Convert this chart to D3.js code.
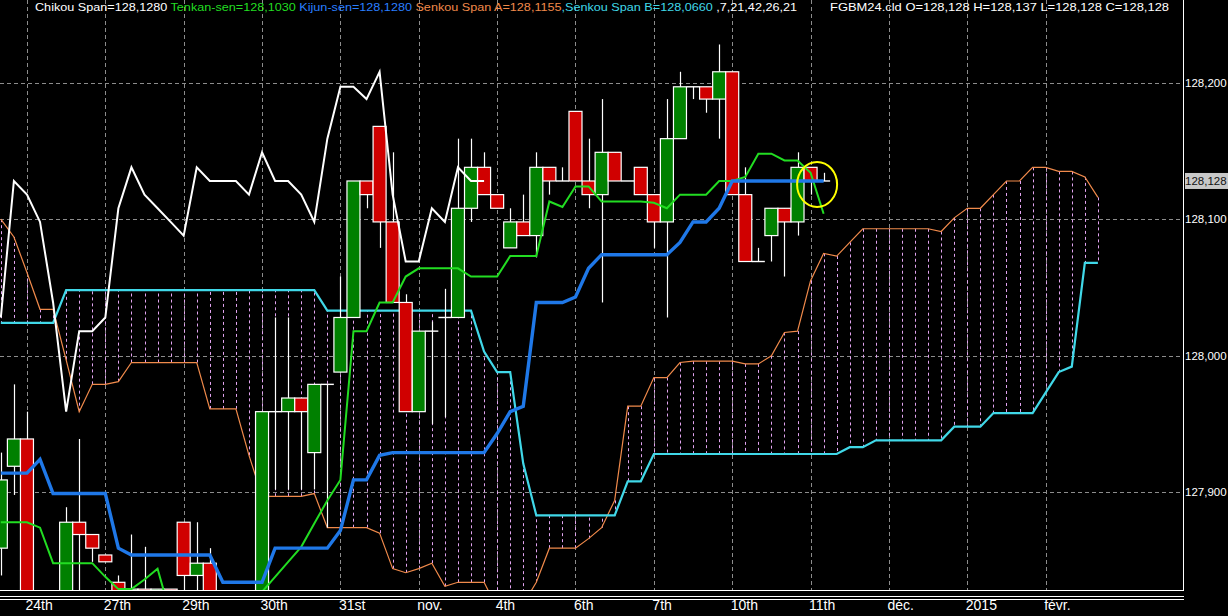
<!DOCTYPE html>
<html>
<head>
<meta charset="utf-8">
<script src="https://cdn.jsdelivr.net/npm/d3@7/dist/d3.min.js"></script>
<style>
  html, body { margin: 0; padding: 0; background: #000; overflow: hidden; }
  svg { display: block; }
</style>
</head>
<body>
<svg id="mainSvg" width="1228" height="616"></svg>
<script>
// bar numbers: array index 0 is bar -1 (partly hidden at the left edge)
const firstBar = -1;
const chikouShift = 26;

const opens = [127.859, 127.919, 127.939, 127.790, 127.780, 127.770, 127.878, 127.869, 127.854, 127.834,
  127.790, 127.829, 127.800, 127.829, 127.878, 127.839, 127.848, 127.780, 127.770, 127.760,
  127.760, 127.959, 127.959, 127.969, 127.929, 127.979, 127.988, 128.028, 128.128, 128.168,
  128.098, 128.039, 127.959, 128.018, 128.028, 128.028, 128.108, 128.138, 128.118, 128.079,
  128.098, 128.088, 128.138, 128.128, 128.179, 128.128, 128.118, 128.149, 128.128, 128.138,
  128.118, 128.098, 128.159, 128.197, 128.197, 128.188, 128.208, 128.118, 128.069, 128.088,
  128.108, 128.098, 128.138, 128.128];
const highs = [127.929, 127.979, 127.959, 127.800, 127.790, 127.889, 127.939, 127.869, 127.854, 127.839,
  127.869, 127.860, 127.829, 127.829, 127.878, 127.878, 127.859, 127.790, 127.780, 127.775,
  127.959, 128.028, 128.028, 127.969, 127.979, 127.979, 128.058, 128.128, 128.128, 128.168,
  128.149, 128.045, 128.018, 128.025, 128.049, 128.159, 128.159, 128.149, 128.118, 128.108,
  128.118, 128.149, 128.138, 128.138, 128.179, 128.159, 128.188, 128.149, 128.128, 128.138,
  128.118, 128.188, 128.208, 128.197, 128.197, 128.228, 128.208, 128.138, 128.079, 128.108,
  128.108, 128.149, 128.138, 128.134];
const lows = [127.839, 127.898, 127.780, 127.765, 127.755, 127.760, 127.790, 127.849, 127.849, 127.770,
  127.780, 127.790, 127.780, 127.790, 127.790, 127.790, 127.750, 127.745, 127.740, 127.745,
  127.750, 127.902, 127.902, 127.902, 127.902, 127.874, 127.988, 128.028, 128.108, 128.079,
  128.039, 127.959, 127.959, 127.950, 127.955, 128.028, 128.098, 128.118, 128.108, 128.079,
  128.088, 128.072, 128.118, 128.128, 128.128, 128.108, 128.039, 128.128, 128.128, 128.118,
  128.079, 128.028, 128.159, 128.188, 128.178, 128.159, 128.118, 128.069, 128.069, 128.069,
  128.058, 128.088, 128.118, 128.128];
const closes = [127.909, 127.939, 127.790, 127.780, 127.770, 127.878, 127.869, 127.859, 127.849, 127.790,
  127.829, 127.800, 127.829, 127.800, 127.839, 127.848, 127.780, 127.770, 127.760, 127.760,
  127.959, 127.959, 127.969, 127.959, 127.979, 127.979, 128.028, 128.128, 128.118, 128.098,
  128.039, 127.959, 128.018, 128.018, 128.028, 128.108, 128.138, 128.118, 128.108, 128.098,
  128.088, 128.138, 128.128, 128.128, 128.128, 128.118, 128.149, 128.128, 128.128, 128.118,
  128.098, 128.159, 128.197, 128.197, 128.188, 128.208, 128.118, 128.069, 128.069, 128.108,
  128.098, 128.138, 128.128, 128.128];

const tenkan = [127.878, 127.878, 127.878, 127.874, 127.848, 127.848, 127.848, 127.848, 127.838, 127.829,
  127.829, 127.836, 127.844, 127.810, 127.800, 127.795, 127.790, 127.790, 127.792, 127.798,
  127.827, 127.838, 127.849, 127.860, 127.877, 127.894, 127.909, 128.018, 128.018, 128.039,
  128.039, 128.058, 128.064, 128.064, 128.064, 128.064, 128.058, 128.058, 128.058, 128.073,
  128.073, 128.073, 128.113, 128.109, 128.124, 128.124, 128.113, 128.113, 128.113, 128.113,
  128.112, 128.108, 128.118, 128.118, 128.118, 128.128, 128.128, 128.131, 128.148, 128.148,
  128.143, 128.143, 128.134, 128.104];
const kijun = [127.914, 127.914, 127.914, 127.924, 127.899, 127.899, 127.899, 127.899, 127.899, 127.859,
  127.854, 127.854, 127.854, 127.854, 127.854, 127.854, 127.854, 127.834, 127.834, 127.834,
  127.834, 127.859, 127.859, 127.859, 127.859, 127.859, 127.872, 127.909, 127.909, 127.927,
  127.929, 127.929, 127.929, 127.929, 127.929, 127.929, 127.929, 127.929, 127.943, 127.959,
  127.963, 128.039, 128.039, 128.039, 128.043, 128.064, 128.074, 128.074, 128.074, 128.074,
  128.074, 128.074, 128.083, 128.098, 128.098, 128.108, 128.128, 128.128, 128.128, 128.128,
  128.128, 128.128, 128.128, 128.128];

// senkou spans run 21 bars past the last candle (bars -1 .. 83)
const senkouA = [128.100, 128.087, 128.061, 128.034, 128.034, 127.997, 127.959, 127.979, 127.979, 127.981,
  127.995, 127.995, 127.995, 127.995, 127.995, 127.995, 127.961, 127.961, 127.961, 127.927,
  127.897, 127.897, 127.897, 127.897, 127.899, 127.874, 127.874, 127.874, 127.874, 127.870,
  127.844, 127.841, 127.844, 127.848, 127.831, 127.834, 127.834, 127.834, 127.815, 127.812,
  127.818, 127.834, 127.859, 127.859, 127.859, 127.866, 127.874, 127.894, 127.963, 127.963,
  127.984, 127.984, 127.995, 127.996, 127.996, 127.996, 127.996, 127.994, 127.994, 128.000,
  128.017, 128.018, 128.055, 128.075, 128.073, 128.083, 128.093, 128.093, 128.093, 128.093,
  128.093, 128.093, 128.091, 128.101, 128.108, 128.108, 128.118, 128.128, 128.128, 128.138,
  128.138, 128.135, 128.135, 128.131, 128.116];
const senkouB = [128.024, 128.024, 128.024, 128.024, 128.024, 128.048, 128.048, 128.048, 128.048, 128.048,
  128.048, 128.048, 128.048, 128.048, 128.048, 128.048, 128.048, 128.048, 128.048, 128.048,
  128.048, 128.048, 128.048, 128.048, 128.048, 128.033, 128.033, 128.033, 128.033, 128.033,
  128.033, 128.033, 128.033, 128.033, 128.033, 128.033, 128.033, 128.003, 127.988, 127.988,
  127.921, 127.883, 127.883, 127.883, 127.883, 127.883, 127.883, 127.883, 127.908, 127.908,
  127.928, 127.928, 127.928, 127.928, 127.928, 127.928, 127.928, 127.928, 127.928, 127.928,
  127.928, 127.928, 127.928, 127.928, 127.928, 127.933, 127.933, 127.938, 127.938, 127.938,
  127.938, 127.938, 127.938, 127.948, 127.948, 127.948, 127.958, 127.958, 127.958, 127.958,
  127.973, 127.988, 127.992, 128.068, 128.068];

const priceTicks = [127.9, 128.0, 128.1, 128.2];
const timeTickBars = [1, 7, 13, 19, 25, 31, 37, 43, 49, 55, 61, 67, 73, 79];
const dateLabels = ["24th", "27th", "29th", "30th", "31st", "nov.", "4th", "6th", "7th", "10th", "11th", "déc.", "2015", "févr."];
const lastPrice = 128.128;

const legendParts = [
    {text: "Chikou Span=128,1280 ", color: "#ffffff"},
    {text: "Tenkan-sen=128,1030 ", color: "#22dd22"},
    {text: "Kijun-sen=128,1280 ", color: "#2a7fff"},
    {text: "Senkou Span A=128,1155", color: "#f08a4b"},
    {text: ",Senkou Span B=128,0660", color: "#40d8e8"},
    {text: " ,7,21,42,26,21", color: "#ffffff"}
];
const symbolText = "FGBM24.cld O=128,128 H=128,137 L=128,128 C=128,128";

// the yellow ring drawn round the last candles
const marker = {bar: 61.5, price: 128.1255, rx: 20, ry: 22.5};

const width = 1228;
const height = 616;
const plotRight = 1183;
const plotBottom = 590;

const canvas = d3.select("#mainSvg");

const x = d3.scaleLinear().domain([0, 78]).range([13.9, 1032.6]);
const y = d3.scaleLinear().domain([127.9, 128.2]).range([492.2, 82.7]);

const barOf = (i) => firstBar + i;

canvas.append("rect").attr("width", width).attr("height", height).attr("fill", "#000");

canvas.append("defs").append("clipPath").attr("id", "plotClip")
    .append("rect").attr("x", 0).attr("y", 0).attr("width", plotRight).attr("height", plotBottom);

const plot = canvas.append("g").attr("clip-path", "url(#plotClip)");

// grid
plot.selectAll("line.hgrid")
    .data(priceTicks)
    .enter()
        .append("line")
        .attr("x1", 0).attr("x2", plotRight)
        .attr("y1", d => Math.round(y(d)) + 0.5)
        .attr("y2", d => Math.round(y(d)) + 0.5)
        .attr("stroke", "#8c8c8c").attr("stroke-dasharray", "4,3");

plot.selectAll("line.vgrid")
    .data(timeTickBars)
    .enter()
        .append("line")
        .attr("x1", d => Math.round(x(d)) + 0.5)
        .attr("x2", d => Math.round(x(d)) + 0.5)
        .attr("y1", 0).attr("y2", plotBottom)
        .attr("stroke", "#8c8c8c").attr("stroke-dasharray", "4,3");

// cloud hatching between the two spans
plot.selectAll("line.hatch")
    .data(senkouA.map((a, i) => ({bar: barOf(i), a: a, b: senkouB[i]})))
    .enter()
        .append("line")
        .attr("x1", d => Math.round(x(d.bar)) + 0.5)
        .attr("x2", d => Math.round(x(d.bar)) + 0.5)
        .attr("y1", d => y(d.a))
        .attr("y2", d => y(d.b))
        .attr("stroke", "#e2a4f0").attr("stroke-dasharray", "3,3");

const line = d3.line().x(d => x(d.bar)).y(d => y(d.v));
const series = (arr) => arr.map((v, i) => ({bar: barOf(i), v: v}));

plot.append("path").datum(series(senkouA))
    .attr("d", line).attr("fill", "none").attr("stroke", "#f08a4b").attr("stroke-width", 1.2);
plot.append("path").datum(series(senkouB))
    .attr("d", line).attr("fill", "none").attr("stroke", "#40d8e8").attr("stroke-width", 2.2);

// candles
const candles = opens.map((o, i) => ({bar: barOf(i), o: o, h: highs[i], l: lows[i], c: closes[i]}));
const bodyW = 13;

plot.selectAll("line.wick")
    .data(candles)
    .enter()
        .append("line")
        .attr("x1", d => Math.round(x(d.bar)) + 0.5)
        .attr("x2", d => Math.round(x(d.bar)) + 0.5)
        .attr("y1", d => y(d.h))
        .attr("y2", d => y(d.l))
        .attr("stroke", "#fff").attr("stroke-width", 1.2);

plot.selectAll("rect.body")
    .data(candles.filter(d => d.o !== d.c))
    .enter()
        .append("rect")
        .attr("x", d => x(d.bar) - bodyW / 2)
        .attr("width", bodyW)
        .attr("y", d => y(Math.max(d.o, d.c)))
        .attr("height", d => Math.abs(y(d.o) - y(d.c)))
        .attr("fill", d => d.c > d.o ? "#008000" : "#d00000")
        .attr("stroke", "#fff").attr("stroke-width", 1.2);

plot.selectAll("line.doji")
    .data(candles.filter(d => d.o === d.c))
    .enter()
        .append("line")
        .attr("x1", d => x(d.bar) - bodyW / 2)
        .attr("x2", d => x(d.bar) + bodyW / 2)
        .attr("y1", d => y(d.o))
        .attr("y2", d => y(d.o))
        .attr("stroke", "#fff").attr("stroke-width", 1.4);

// tenkan, kijun, chikou
plot.append("path").datum(series(tenkan))
    .attr("d", line).attr("fill", "none").attr("stroke", "#22dd22").attr("stroke-width", 2);
plot.append("path").datum(series(kijun))
    .attr("d", line).attr("fill", "none").attr("stroke", "#1f78e8").attr("stroke-width", 3.4);

const chikou = closes
    .map((c, i) => ({bar: barOf(i) - chikouShift, v: c}))
    .filter(d => d.bar >= firstBar);
plot.append("path").datum(chikou)
    .attr("d", line).attr("fill", "none").attr("stroke", "#fff").attr("stroke-width", 2);

plot.append("ellipse")
    .attr("cx", x(marker.bar)).attr("cy", y(marker.price))
    .attr("rx", marker.rx).attr("ry", marker.ry)
    .attr("fill", "none").attr("stroke", "#ffff00").attr("stroke-width", 2);

// frame
canvas.append("line").attr("x1", plotRight + 0.5).attr("x2", plotRight + 0.5)
    .attr("y1", 0).attr("y2", plotBottom + 1).attr("stroke", "#fff");
[plotBottom + 0.5, 596.5, 599.5].forEach(yy => {
    canvas.append("line").attr("x1", 0).attr("x2", plotRight + 1)
        .attr("y1", yy).attr("y2", yy).attr("stroke", "#fff");
});

// price axis
const axisFont = "'Liberation Sans', Arial, sans-serif";
const priceFmt = (d) => d3.format(".3f")(d).replace(".", ",");
const yAxis = canvas.append("g")
    .attr("transform", `translate(${plotRight},0)`)
    .call(d3.axisRight(y).tickValues(priceTicks).tickFormat(priceFmt).tickSize(0).tickPadding(2));
yAxis.select(".domain").remove();
yAxis.selectAll("text")
    .attr("fill", "#fff")
    .style("font-family", axisFont)
    .style("font-size", "11.5px");

canvas.append("rect")
    .attr("x", plotRight + 2).attr("y", y(lastPrice) - 8)
    .attr("width", width - plotRight - 2).attr("height", 16)
    .attr("fill", "#c8c8c8");
canvas.append("text")
    .attr("x", plotRight + 2).attr("y", y(lastPrice))
    .attr("dy", "0.35em")
    .attr("fill", "#111")
    .style("font-family", axisFont)
    .style("font-size", "11.5px")
    .text(priceFmt(lastPrice));

// time axis
const xAxis = canvas.append("g")
    .attr("transform", "translate(0,600)")
    .call(d3.axisBottom(x).tickValues(timeTickBars).tickFormat((d, i) => dateLabels[i]).tickSize(0).tickPadding(0));
xAxis.select(".domain").remove();
xAxis.selectAll("text")
    .attr("fill", "#fff")
    .attr("text-anchor", "start")
    .attr("dx", "-2")
    .style("font-family", "'Liberation Sans Narrow', 'Arial Narrow', 'Liberation Sans', sans-serif")
    .style("font-size", "14px");

// legend line across the top
const legend = canvas.append("text")
    .attr("x", 35).attr("y", 11)
    .attr("textLength", 762)
    .attr("lengthAdjust", "spacingAndGlyphs")
    .attr("xml:space", "preserve")
    .style("font-family", axisFont)
    .style("font-size", "11.5px");
legend.selectAll("tspan")
    .data(legendParts)
    .enter()
        .append("tspan")
        .attr("fill", d => d.color)
        .text(d => d.text);

canvas.append("text")
    .attr("x", 830).attr("y", 11)
    .attr("textLength", 339)
    .attr("lengthAdjust", "spacingAndGlyphs")
    .attr("fill", "#fff")
    .style("font-family", axisFont)
    .style("font-size", "11.5px")
    .text(symbolText);
</script>
</body>
</html>
